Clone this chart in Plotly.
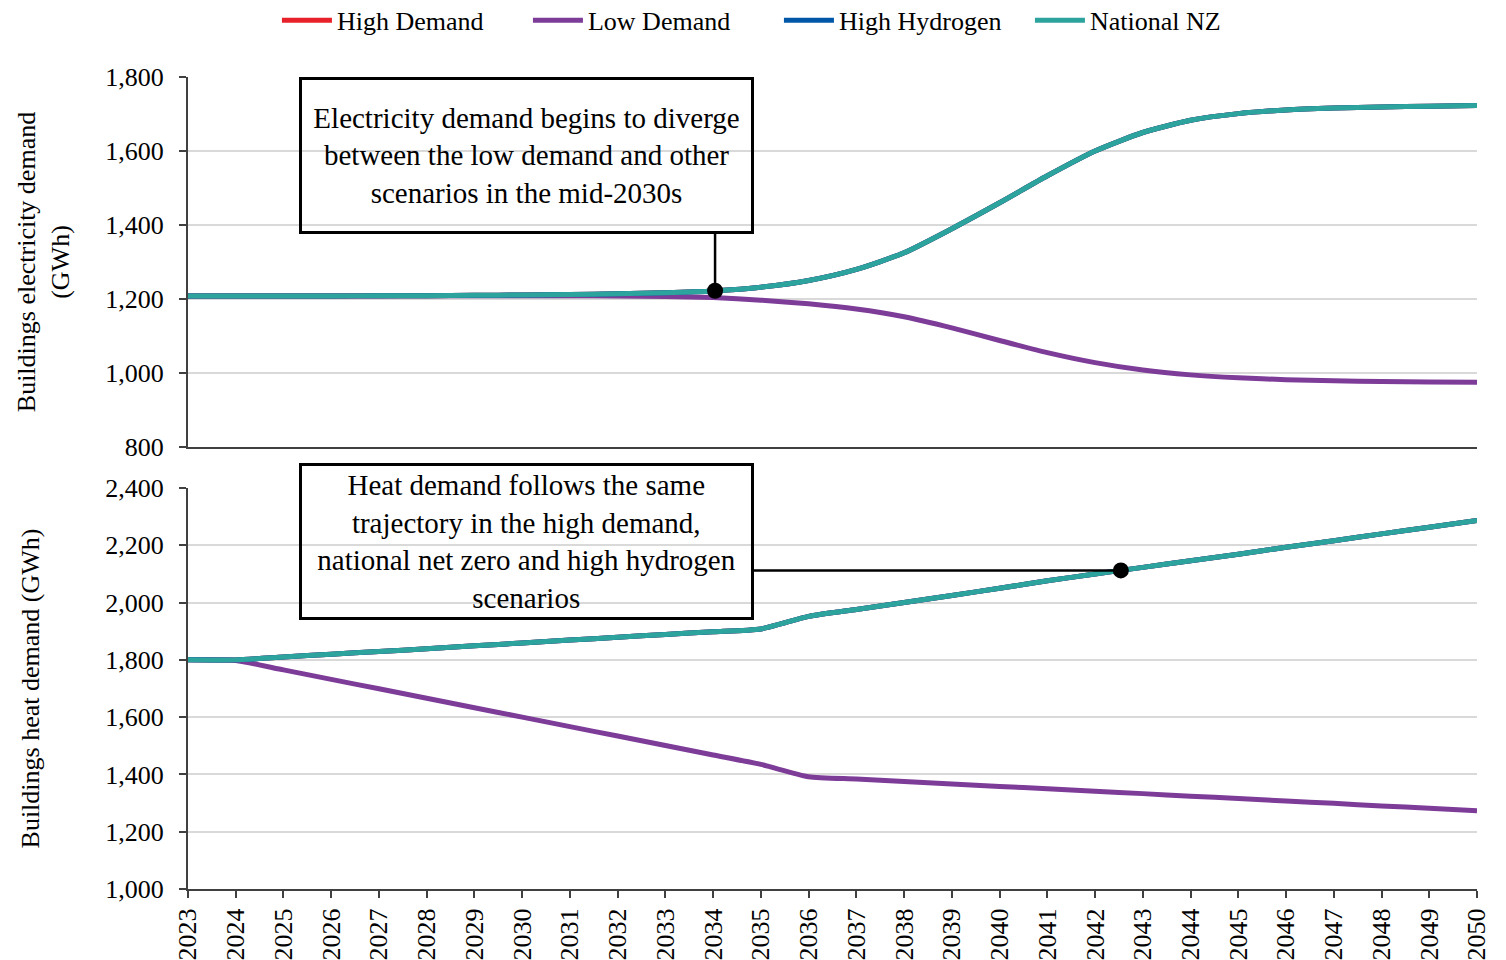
import numpy as np
import plotly.graph_objects as go
from plotly.subplots import make_subplots

years = list(range(2023, 2051))

# buildings electricity demand (GWh)
elec_high = [1208, 1208, 1208, 1208, 1209, 1209, 1210, 1211, 1212, 1214, 1217, 1222, 1232, 1250,
             1280, 1325, 1390, 1460, 1533, 1600, 1650, 1683, 1701, 1711, 1716, 1719, 1721, 1723]
elec_low = [1208, 1208, 1208, 1208, 1208, 1209, 1209, 1209, 1209, 1208, 1207, 1204, 1197, 1187,
            1173, 1152, 1122, 1088, 1055, 1028, 1008, 995, 987, 982, 979, 977, 976, 975]
elec_h2 = list(elec_high)
elec_nz = list(elec_high)

# buildings heat demand (GWh)
heat_high = [1800, 1800, 1810, 1820, 1829, 1839, 1849, 1859, 1869, 1879, 1889, 1898, 1908, 1952,
             1976, 2000, 2025, 2050, 2076, 2100, 2123, 2146, 2169, 2193, 2216, 2240, 2263, 2287]
heat_low = [1800, 1798, 1765, 1732, 1699, 1666, 1633, 1600, 1567, 1534, 1501, 1468, 1435, 1392,
            1384, 1375, 1367, 1358, 1350, 1341, 1333, 1324, 1316, 1307, 1299, 1290, 1282, 1273]
heat_h2 = list(heat_high)
heat_nz = list(heat_high)

scenarios = ["High Demand", "Low Demand", "High Hydrogen", "National NZ"]
colors = ["#E8202A", "#7D3C98", "#0057A8", "#2DA39E"]

# callout points
callout_elec_year = 2034.04
callout_heat_year = 2042.54

FONT = "Liberation Serif, Times New Roman, serif"

# page body has an 8px margin, so the figure is 8px smaller than the window
fig = make_subplots(rows=2, cols=1, shared_xaxes=True, vertical_spacing=0.0505,
                    row_heights=[0.4557, 0.4938])

elec = [elec_high, elec_low, elec_h2, elec_nz]
heat = [heat_high, heat_low, heat_h2, heat_nz]
for name, col, e, h in zip(scenarios, colors, elec, heat):
    fig.add_trace(go.Scatter(x=years, y=e, name=name, mode="lines",
                             line=dict(color=col, width=5, shape="spline", smoothing=0.6),
                             legendgroup=name), row=1, col=1)
    fig.add_trace(go.Scatter(x=years, y=h, name=name, mode="lines", showlegend=False,
                             line=dict(color=col, width=5, shape="spline", smoothing=0.6),
                             legendgroup=name), row=2, col=1)

elec_dot = float(np.interp(callout_elec_year, years, elec_nz))
heat_dot = float(np.interp(callout_heat_year, years, heat_nz))
fig.add_trace(go.Scatter(x=[callout_elec_year], y=[elec_dot], mode="markers", showlegend=False,
                         marker=dict(color="black", size=16)), row=1, col=1)
fig.add_trace(go.Scatter(x=[callout_heat_year], y=[heat_dot], mode="markers", showlegend=False,
                         marker=dict(color="black", size=16)), row=2, col=1)

box_x = 2030.09
box_right = 2034.83

# connectors
fig.add_shape(type="line", xref="x", yref="y", x0=callout_elec_year, x1=callout_elec_year,
              y0=elec_dot, y1=1381, line=dict(color="black", width=2.5))
fig.add_shape(type="line", xref="x2", yref="y2", x0=box_right, x1=callout_heat_year,
              y0=heat_dot, y1=heat_dot, line=dict(color="black", width=2.5))

box_style = dict(showarrow=False, width=445, height=147, borderpad=2, borderwidth=3,
                 bordercolor="black", bgcolor="rgba(0,0,0,0)",
                 font=dict(family=FONT, size=29, color="black"))
fig.add_annotation(x=box_x, y=1800, xref="x", yref="y", xanchor="center", yanchor="top",
                   text="Electricity demand begins to diverge<br>between the low demand and other<br>scenarios in the mid-2030s",
                   **box_style)
fig.add_annotation(x=box_x, y=0.5246, xref="x2", yref="paper", xanchor="center", yanchor="top",
                   text="Heat demand follows the same<br>trajectory in the high demand,<br>national net zero and high hydrogen<br>scenarios",
                   **box_style)

axis_common = dict(showline=True, linecolor="#404040", linewidth=2, ticks="outside",
                   ticklen=7, tickcolor="#404040", tickwidth=1.5, automargin=False,
                   tickfont=dict(family=FONT, size=26, color="black"))

fig.update_xaxes(range=[2023, 2050], dtick=1, showgrid=False, zeroline=False, **axis_common)
fig.update_xaxes(showticklabels=False, ticks="", row=1, col=1)
fig.update_xaxes(tickangle=-90, row=2, col=1)

fig.update_yaxes(showgrid=True, gridcolor="#D9D9D9", gridwidth=1.5, zeroline=False,
                 tickformat=",", ticklabelstandoff=10, **axis_common)
fig.update_yaxes(range=[800, 1800], dtick=200, row=1, col=1,
                 title=dict(text="Buildings electricity demand<br>(GWh)", standoff=28,
                            font=dict(family=FONT, size=26, color="black")))
fig.update_yaxes(range=[1000, 2400], dtick=200, row=2, col=1,
                 title=dict(text="Buildings heat demand (GWh)", standoff=58,
                            font=dict(family=FONT, size=26, color="black")))

fig.update_layout(
    width=1498, height=952,
    margin=dict(l=180, r=29, t=69, b=71),
    plot_bgcolor="white", paper_bgcolor="white",
    font=dict(family=FONT, size=26, color="black"),
    legend=dict(orientation="h", x=0.069, xanchor="left", y=0.987, yanchor="middle",
                yref="container", font=dict(family=FONT, size=26, color="black"),
                itemwidth=50, entrywidth=186, traceorder="normal"),
)

fig.write_html("out.html")
